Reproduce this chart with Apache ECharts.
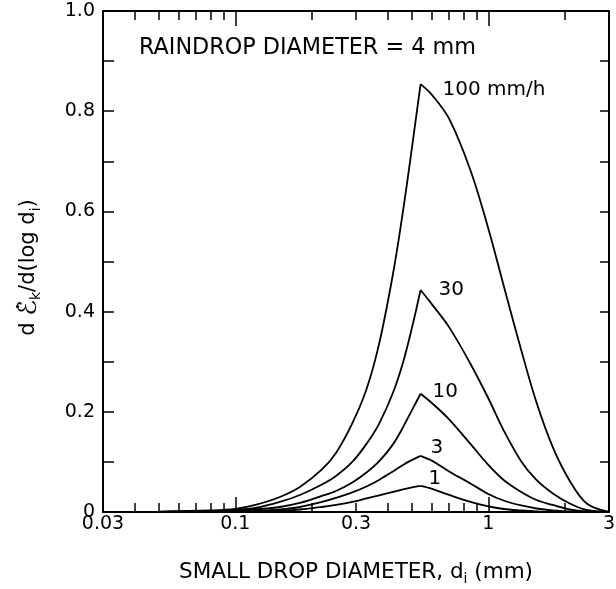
<!DOCTYPE html>
<html>
<head>
<meta charset="utf-8">
<script src="https://cdn.jsdelivr.net/npm/echarts@6/dist/echarts.min.js"></script>
<style>
  html, body { margin: 0; padding: 0; background: #fff; }
  #chart { width: 616px; height: 589px; }
</style>
</head>
<body>
<div id="chart"></div>
<script>
// small drop diameter (mm), common grid for all curves
const diameters = [0.03, 0.05, 0.08, 0.1, 0.12, 0.15, 0.18, 0.22, 0.25, 0.29, 0.33, 0.37, 0.42, 0.46, 0.5, 0.54, 0.6, 0.7, 0.85, 1.0, 1.15, 1.35, 1.55, 1.8, 2.1, 2.45, 3.0];
const peakIndex = 15; // curves have a sharp peak at 0.54 mm

// d E_k / d(log d_i) per rain rate
const rate100 = [0, 0.0008, 0.003, 0.006, 0.014, 0.030, 0.050, 0.085, 0.118, 0.177, 0.245, 0.335, 0.475, 0.600, 0.730, 0.854, 0.832, 0.785, 0.682, 0.566, 0.452, 0.323, 0.219, 0.129, 0.062, 0.017, 0];
const rate30 = [0, 0.0004, 0.0015, 0.004, 0.008, 0.020, 0.034, 0.055, 0.072, 0.100, 0.136, 0.176, 0.238, 0.298, 0.369, 0.443, 0.414, 0.369, 0.296, 0.227, 0.163, 0.101, 0.064, 0.037, 0.017, 0.004, 0];
const rate10 = [0, 0.0002, 0.001, 0.002, 0.005, 0.010, 0.018, 0.032, 0.042, 0.059, 0.079, 0.101, 0.135, 0.169, 0.204, 0.236, 0.217, 0.185, 0.136, 0.094, 0.064, 0.040, 0.024, 0.014, 0.005, 0.001, 0];
const rate3 = [0, 0.0001, 0.0005, 0.001, 0.002, 0.005, 0.010, 0.020, 0.028, 0.039, 0.051, 0.064, 0.081, 0.094, 0.104, 0.112, 0.102, 0.081, 0.057, 0.036, 0.023, 0.013, 0.007, 0.003, 0.001, 0, 0];
const rate1 = [0, 0, 0.0003, 0.0007, 0.0015, 0.0025, 0.005, 0.010, 0.014, 0.020, 0.027, 0.033, 0.040, 0.045, 0.049, 0.052, 0.046, 0.034, 0.020, 0.011, 0.006, 0.003, 0.001, 0, 0, 0, 0];

const rateNames = ['100 mm/h', '30', '10', '3', '1'];
const rateValues = [rate100, rate30, rate10, rate3, rate1];

// axis ticks / labels
const xLabelValues = [0.03, 0.1, 0.3, 1, 3];
const xMajorTicks = [0.1, 1];
const xMinorTicks = [0.04, 0.05, 0.06, 0.07, 0.08, 0.09, 0.2, 0.3, 0.4, 0.5, 0.6, 0.7, 0.8, 0.9, 2];

const FONT = '"DejaVu Sans", "Liberation Sans", sans-serif';
const labelOffsets = [[22, 6], [18, 0], [12, -2], [10, -8], [8, -7]];

const chart = echarts.init(document.getElementById('chart'));

function logAxis(pos, ticks, len, withLine) {
    return {
        type: 'log',
        logBase: 10,
        min: 0.03,
        max: 3,
        position: pos,
        axisLine: { show: withLine, lineStyle: { color: '#000', width: 2 } },
        axisTick: { show: true, inside: true, length: len, customValues: ticks, lineStyle: { color: '#000', width: 1.5 } },
        axisLabel: { show: false },
        splitLine: { show: false },
        minorTick: { show: false }
    };
}

const bottomAxis = logAxis('bottom', xMajorTicks, 15, true);
bottomAxis.axisLabel = {
    show: true,
    customValues: xLabelValues,
    formatter: function (v) { return String(v); },
    margin: 3,
    fontSize: 19,
    fontFamily: FONT,
    color: '#000'
};
bottomAxis.name = '{a|SMALL DROP DIAMETER, d}{s|i}{a| (mm)}';
bottomAxis.nameLocation = 'middle';
bottomAxis.nameGap = 46;
bottomAxis.nameTextStyle = {
    rich: {
        a: { fontSize: 21.5, fontFamily: FONT, color: '#000', lineHeight: 28 },
        s: { fontSize: 14, fontFamily: FONT, color: '#000', lineHeight: 14, verticalAlign: 'bottom' }
    }
};

// each curve drawn as rising and falling branch so the peak stays sharp
const series = [];
rateNames.forEach(function (name, k) {
    const pts = diameters.map(function (d, i) { return [d, rateValues[k][i]]; });
    const base = {
        type: 'line',
        xAxisIndex: 0,
        yAxisIndex: 0,
        showSymbol: false,
        symbol: 'none',
        smooth: 0.35,
        lineStyle: { color: '#000', width: 1.8 }
    };
    series.push(Object.assign({}, base, {
        name: name,
        data: pts.slice(0, peakIndex + 1),
        markPoint: {
            symbol: 'circle',
            symbolSize: 0,
            data: [{ type: 'max' }],
            label: {
                show: true,
                position: 'right',
                distance: 0,
                offset: labelOffsets[k],
                formatter: name,
                fontSize: 20,
                fontFamily: FONT,
                color: '#000'
            }
        }
    }));
    series.push(Object.assign({}, base, {
        name: name + ' ',
        data: pts.slice(peakIndex)
    }));
});

chart.setOption({
    animation: false,
    backgroundColor: '#fff',
    title: {
        text: 'RAINDROP DIAMETER = 4 mm',
        left: 139,
        top: 37,
        padding: 0,
        textStyle: { fontSize: 22.3, fontWeight: 'normal', fontFamily: FONT, color: '#000' }
    },
    grid: { left: 103, right: 7, top: 11, bottom: 77, containLabel: false, outerBoundsMode: 'none' },
    xAxis: [
        bottomAxis,
        logAxis('bottom', xMinorTicks, 9, false),
        logAxis('top', xMajorTicks, 15, true),
        logAxis('top', xMinorTicks, 9, false)
    ],
    yAxis: [
        {
            type: 'value',
            min: 0,
            max: 1,
            interval: 0.1,
            position: 'left',
            axisLine: { show: true, lineStyle: { color: '#000', width: 2 } },
            axisTick: { inside: true, length: 11, lineStyle: { color: '#000', width: 1.5 } },
            axisLabel: {
                margin: 8,
                fontSize: 19,
                fontFamily: FONT,
                color: '#000',
                formatter: function (v) {
                    const t = Math.round(v * 10);
                    if (t % 2) return '';
                    return t === 0 ? '0' : (t / 10).toFixed(1);
                }
            },
            splitLine: { show: false },
            name: '{a|d }{e|ℰ̇}{s|k}{a|/d(log d}{s|i}{a|)}',
            nameLocation: 'middle',
            nameRotate: 90,
            nameGap: 60,
            nameTextStyle: {
                padding: [0, 12, 0, 0],
                rich: {
                    a: { fontSize: 21, fontFamily: FONT, color: '#000', lineHeight: 28 },
                    e: { fontSize: 26, fontFamily: FONT, color: '#000', lineHeight: 28 },
                    s: { fontSize: 14, fontFamily: FONT, color: '#000', lineHeight: 14, verticalAlign: 'bottom' }
                }
            }
        },
        {
            type: 'value',
            min: 0,
            max: 1,
            interval: 0.1,
            position: 'right',
            axisLine: { show: true, lineStyle: { color: '#000', width: 2 } },
            axisTick: { inside: true, length: 9, lineStyle: { color: '#000', width: 1.5 } },
            axisLabel: { show: false },
            splitLine: { show: false }
        }
    ],
    series: series
});

window.addEventListener('resize', function () {
    chart.resize();
});
</script>
</body>
</html>
